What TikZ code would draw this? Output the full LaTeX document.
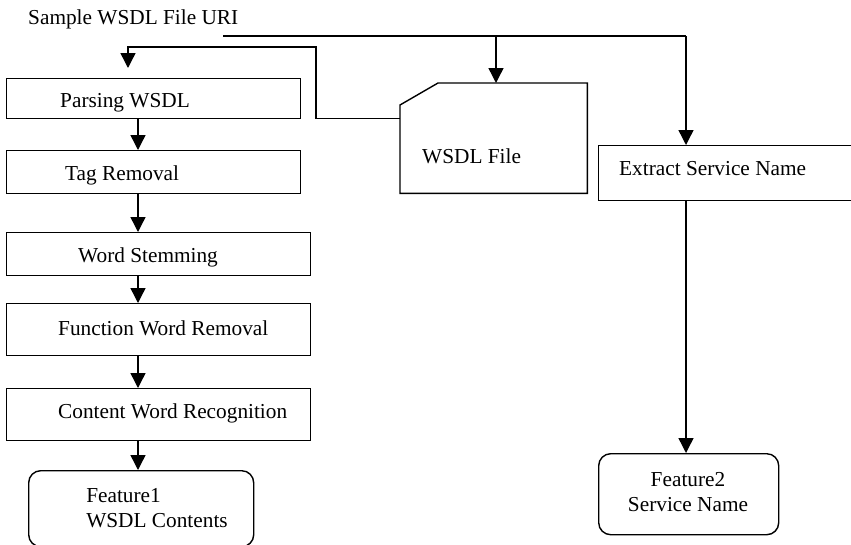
\documentclass[tikz,border=0pt]{standalone}
\usepackage{fontspec}
\setmainfont{Liberation Serif}
\usetikzlibrary{arrows.meta}

\tikzset{
  box/.style={draw, rectangle, line width=1.4pt, inner sep=0pt, anchor=north west},
  featbox/.style={box, rounded corners=12pt},
  txt/.style={inner sep=0pt, font=\fontsize{21.3}{25}\selectfont},
  wire/.style={line width=1.4pt},
  flow/.style={wire, -{Triangle[length=15pt,width=15pt]}},
}

\begin{document}
\begin{tikzpicture}[x=1pt,y=1pt,yscale=-1]
    \useasboundingbox (0,0) rectangle (851,544);

    %Shape: left column boxes
    \node[box, minimum width=294pt, minimum height=40pt] (parse) at (6,78) {};
    \node[box, minimum width=294pt, minimum height=43pt] (tag) at (6,150) {};
    \node[box, minimum width=304pt, minimum height=43pt] (stem) at (6,232) {};
    \node[box, minimum width=304pt, minimum height=52pt] (func) at (6,303) {};
    \node[box, minimum width=304pt, minimum height=52pt] (content) at (6,388) {};
    \node[featbox, minimum width=225pt, minimum height=76pt] (feat1) at (28,470) {};

    %Shape: WSDL file (cut corner)
    \node[inner sep=0pt, minimum width=187pt, minimum height=110pt, anchor=north west] (file) at (400,83) {};
    \draw[wire] (file.south west) -- ([yshift=22pt]file.north west) -- ([xshift=38pt]file.north west) -- (file.north east) -- (file.south east) -- cycle;

    %Shape: right column boxes
    \node[box, minimum width=270pt, minimum height=55pt] (extract) at (598,145) {};
    \node[featbox, minimum width=180pt, minimum height=81pt] (feat2) at (598,453) {};

    % Text Node
    \node[txt, anchor=base west] (uri) at (28,24) {Sample WSDL File URI};
    \node[txt, anchor=base west] (parsetxt) at (60,107) {Parsing WSDL};
    \node[txt, anchor=base west] (tagtxt) at (65,180) {Tag Removal};
    \node[txt, anchor=base west] (stemtxt) at (78,262) {Word Stemming};
    \node[txt, anchor=base west] (functxt) at (58,335) {Function Word Removal};
    \node[txt, anchor=base west] (contenttxt) at (58,418) {Content Word Recognition};
    \node[txt, align=left] (feat1txt) at (157,508) {Feature1\\WSDL Contents};
    \node[txt, anchor=base west] (filetxt) at (422,163) {WSDL File};
    \node[txt, anchor=base west] (extracttxt) at (619,175) {Extract Service Name};
    \node[txt, align=center] (feat2txt) at (688,492) {Feature2\\Service Name};

    % Connectors
    \coordinate (uriend) at (223,36);
    \coordinate (bend) at (316,47);
    \coordinate (parsein) at (128,0);
    \coordinate (leftcol) at (138,0);
    \coordinate (filecol) at (496,0);
    \coordinate (rightcol) at (686,0);

    \draw[wire] (uriend) -- (uriend -| rightcol);
    \draw[flow] (uriend -| filecol) -- (file.north -| filecol);
    \draw[flow] (uriend -| rightcol) -- (extract.north -| rightcol);
    \draw[flow] (extract.south -| rightcol) -- (feat2.north -| rightcol);
    \draw[flow, shorten >=10pt] ([yshift=-20pt]file.west) -| (bend) -| (parse.north -| parsein);

    \draw[flow] (parse.south -| leftcol) -- (tag.north -| leftcol);
    \foreach \a/\b in {tag/stem, stem/func, func/content, content/feat1}
      \draw[flow] (\a.south -| leftcol) -- (\b.north -| leftcol);

\end{tikzpicture}
\end{document}
